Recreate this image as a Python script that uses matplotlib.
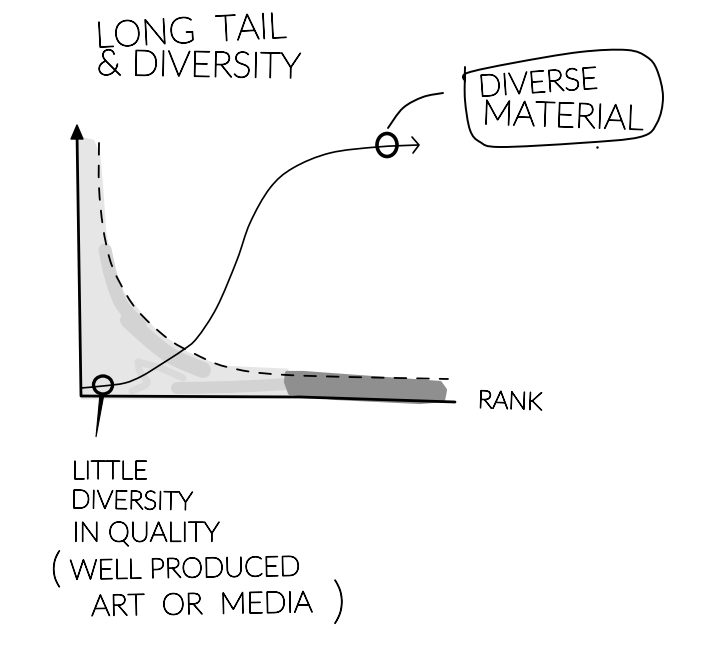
import matplotlib
matplotlib.use('Agg')
import numpy as np
import matplotlib.pyplot as plt
import matplotlib.patheffects as pe
from matplotlib.path import Path
from matplotlib.patches import PathPatch, Polygon, Ellipse

# everything, in image pixels
light_x = [80, 79, 84, 93, 99, 102, 105, 110, 123, 157, 187, 220, 287, 290, 200, 82]
light_y = [150, 142, 139, 141, 155, 190, 233, 260, 293, 333, 353, 367, 370, 397, 398, 398]

stroke1_x = [105, 112, 122, 140]
stroke1_y = [250, 280, 305, 325]
stroke2_x = [128, 150, 173, 203]
stroke2_y = [320, 340, 357, 370]
stroke3_x = [138, 160, 183]
stroke3_y = [362, 368, 378]
stroke3b_x = [138, 140, 147, 132]
stroke3b_y = [362, 372, 383, 391]
stroke4_x = [177, 230, 287]
stroke4_y = [388, 387, 384]

dark_x = [287, 303, 440, 445, 443, 420, 337, 290, 286]
dark_y = [373, 373, 383, 390, 400, 402, 398, 393, 382]

tail_x = [99, 99, 103, 110, 120, 137, 167, 193, 227, 287, 448]
tail_y = [143, 187, 227, 260, 283, 310, 338, 353, 367, 375, 379]

curve_x = [81, 103, 125, 142, 160, 183, 197, 217, 237, 250, 270, 293, 330, 377, 418]
curve_y = [388, 386, 383, 376, 365, 350, 338, 307, 260, 223, 188, 168, 153, 147, 145]

leader_x = [388, 403, 423, 443]
leader_y = [128, 108, 97, 93]

bubble_x = [465, 465, 467, 513, 580, 627, 647, 657, 663, 657, 640, 580, 500, 480, 470, 465, 465]
bubble_y = [67, 80, 73, 63, 52, 50, 57, 70, 97, 123, 137, 143, 147, 142, 130, 100, 73]

labels = [
    ("LONG  TAIL", 191, 33, 26, 3),
    ("& DIVERSITY", 199, 67, 25.8, -1),
    ("LITTLE", 110, 472, 18.5, 0),
    ("DIVERSITY", 132, 502, 18.6, -1),
    ("IN QUALITY", 146, 534, 20, 0),
    ("WELL PRODUCED", 185, 570, 20, 1),
    ("ART  OR  MEDIA", 202, 606, 21.5, 1),
    ("RANK", 510, 402, 18, -2),
    ("DIVERSE", 538, 84, 22, 4),
    ("MATERIAL", 563, 117, 25, -2),
]


def smooth(xs, ys):
    # catmull-rom through the points, as a bezier path
    p = np.column_stack([xs, ys]).astype(float)
    p = np.vstack([p[0], p, p[-1]])
    verts = [p[1]]
    codes = [Path.MOVETO]
    for i in range(1, len(p) - 2):
        verts += [p[i] + (p[i + 1] - p[i - 1]) / 6, p[i + 1] - (p[i + 2] - p[i]) / 6, p[i + 1]]
        codes += [Path.CURVE4] * 3
    return Path(verts, codes)


def line(ax, xs, ys, lw, color='black', **kw):
    ax.add_patch(PathPatch(smooth(xs, ys), fill=False, lw=lw, ec=color, capstyle='round', **kw))


fig = plt.figure(figsize=(7.05, 6.57), dpi=100)
ax = fig.add_axes([0, 0, 1, 1])
ax.set_xlim(0, 705)
ax.set_ylim(657, 0)
ax.axis('off')

ax.add_patch(Polygon(np.column_stack([light_x, light_y]), closed=True, fc='#e6e6e6', ec='#e6e6e6', lw=2, joinstyle='round'))
for sx, sy, w, c in [(stroke1_x, stroke1_y, 9.5, '#d3d3d3'), (stroke2_x, stroke2_y, 11.5, '#d3d3d3'),
                     (stroke3_x, stroke3_y, 5, '#dadada'), (stroke3b_x, stroke3b_y, 5, '#dadada'),
                     (stroke4_x, stroke4_y, 8.6, '#d3d3d3')]:
    line(ax, sx, sy, w, c)
ax.add_patch(Polygon(np.column_stack([dark_x, dark_y]), closed=True, fc='#8f8f8f', ec='#8f8f8f', lw=3, joinstyle='round'))

# axes of the sketch
ax.plot([77, 81, 300, 455], [133, 396, 397, 402], color='black', lw=2, solid_joinstyle='round', solid_capstyle='round')
ax.add_patch(Polygon([[77, 125], [83, 139], [71, 139]], closed=True, fc='black', ec='black', lw=1, joinstyle='round'))

line(ax, tail_x, tail_y, 1.3, linestyle=(0, (6.5, 6)))
line(ax, curve_x, curve_y, 1.2)
ax.plot([412, 419, 413], [137, 145, 153], color='black', lw=1.2, solid_capstyle='round')
line(ax, leader_x, leader_y, 1.4)
line(ax, bubble_x, bubble_y, 1.4)
ax.plot([597], [147], '.', color='black', ms=1.5)

ax.add_patch(Ellipse((103, 385), 19, 18, fill=False, ec='black', lw=2.4))
ax.add_patch(Ellipse((387, 145), 20, 23, fill=False, ec='black', lw=2.6))
ax.add_patch(Polygon([[100, 394], [96, 437], [104, 394]], closed=True, fc='black', ec='black', lw=0.8))

# the light face is a hairline, a thin outline brings it to pen weight
font = dict(family=['Lato', 'DejaVu Sans'], weight='light', color='black', ha='center', va='center',
            path_effects=[pe.withStroke(linewidth=0.9, foreground='black')])
for txt, x, y, size, rot in labels:
    ax.text(x, y, txt, fontsize=size, rotation=rot, **font)
ax.text(56, 571, "(", fontsize=30, **font)
ax.text(339, 604, ")", fontsize=36, **font)

fig.savefig('out.png', dpi=100)
